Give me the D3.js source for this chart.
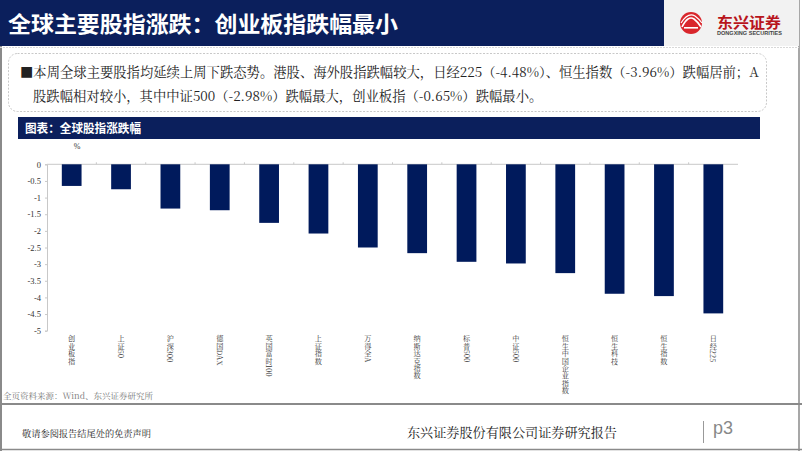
<!DOCTYPE html>
<html><head><meta charset="utf-8">
<script src="https://cdn.jsdelivr.net/npm/d3@7"></script>
<style>
html,body{margin:0;padding:0;background:#fff;}
svg{display:block;}
</style></head>
<body>
<svg id="c" width="802" height="451"></svg>
<script>
const categories = ["创业板指","上证50","沪深300","德国DAX","英国富时100","上证指数","万得全A","纳斯达克指数","标普500","中证500","恒生中国企业指数","恒生科技","恒生指数","日经225"];
const changes = [-0.65,-0.75,-1.33,-1.38,-1.76,-2.08,-2.50,-2.67,-2.93,-2.98,-3.27,-3.89,-3.96,-4.48];
const yTicks = [0,-0.5,-1,-1.5,-2,-2.5,-3,-3.5,-4,-4.5,-5];

const NAVY = "#0b1f5c";
const SERIF = "'Noto Serif CJK SC','Liberation Serif','Noto Sans CJK SC',serif";
const SANS = "'Noto Sans CJK SC','Liberation Sans',sans-serif";
const svg = d3.select("#c");

// page frame
svg.append("rect").attr("x",0).attr("y",0).attr("width",802).attr("height",451).attr("fill","#fff");
svg.append("line").attr("x1",1).attr("x2",1).attr("y1",46).attr("y2",451).attr("stroke","#8a8a8a").attr("stroke-width",2);
svg.append("line").attr("x1",799).attr("x2",799).attr("y1",0).attr("y2",451).attr("stroke","#8a8a8a").attr("stroke-width",1.5);
svg.append("line").attr("x1",0).attr("x2",802).attr("y1",449.5).attr("y2",449.5).attr("stroke","#8a8a8a").attr("stroke-width",1.5);

// header
svg.append("rect").attr("x",0).attr("y",0).attr("width",664).attr("height",46).attr("fill",NAVY);
svg.append("rect").attr("x",664).attr("y",0).attr("width",135).attr("height",46).attr("fill","#f2f2f2");
svg.append("line").attr("x1",0).attr("x2",799).attr("y1",47.5).attr("y2",47.5).attr("stroke","#d8d8d8").attr("stroke-width",1).attr("stroke-dasharray","2,1");
svg.append("text").attr("x",8).attr("y",32).attr("fill","#fff").attr("font-family",SANS).attr("font-weight","bold")
  .attr("font-size",22).attr("textLength",390).attr("lengthAdjust","spacingAndGlyphs").text("全球主要股指涨跌：创业板指跌幅最小");

// logo
const lg = svg.append("g");
lg.append("circle").attr("cx",691).attr("cy",23).attr("r",11).attr("fill","#d9262c");
lg.append("path").attr("d","M682,27 Q688,15 694,19 Q698,22 701,27").attr("fill","none").attr("stroke","#fff").attr("stroke-width",1.6);
lg.append("path").attr("d","M681,23 Q688,12 695,16 Q699,19 702,23").attr("fill","none").attr("stroke","#fff").attr("stroke-width",1.2);
lg.append("rect").attr("x",684).attr("y",27).attr("width",14).attr("height",1.6).attr("fill","#fff");
lg.append("text").attr("x",717).attr("y",28).attr("fill","#b8151c").attr("font-family",SANS).attr("font-weight","bold")
  .attr("font-size",15).attr("textLength",64).attr("lengthAdjust","spacingAndGlyphs").text("东兴证券");
lg.append("text").attr("x",717).attr("y",35).attr("fill","#444").attr("font-family","'Liberation Sans',sans-serif").attr("font-weight","bold")
  .attr("font-size",4.6).attr("textLength",65).attr("lengthAdjust","spacingAndGlyphs").text("DONGXING SECURITIES");

// summary box
svg.append("rect").attr("x",8.5).attr("y",53.5).attr("width",758).attr("height",58).attr("rx",9)
  .attr("fill","#fff").attr("stroke","#c8c8c8").attr("stroke-dasharray","2,1.5");
const l1 = svg.append("text").attr("x",20).attr("y",77).attr("fill","#222").attr("font-family",SERIF).attr("font-size",13)
  .text("■本周全球主要股指均延续上周下跌态势。港股、海外股指跌幅较大，日经225（-4.48%）、恒生指数（-3.96%）跌幅居前；A");
const l2 = svg.append("text").attr("x",33).attr("y",101).attr("fill","#222").attr("font-family",SERIF).attr("font-size",13)
  .text("股跌幅相对较小，其中中证500（-2.98%）跌幅最大，创业板指（-0.65%）跌幅最小。");
{
  const w = l1.node().getComputedTextLength();
  const fs = 13 * 739 / w;
  l1.attr("font-size", fs);
  l2.attr("font-size", fs);
}

// chart title bar
svg.append("rect").attr("x",18).attr("y",117).attr("width",742).attr("height",22).attr("fill",NAVY);
svg.append("text").attr("x",25).attr("y",133).attr("fill","#fff").attr("font-family",SANS).attr("font-weight","bold")
  .attr("font-size",12.5).attr("textLength",116).attr("lengthAdjust","spacingAndGlyphs").text("图表：全球股指涨跌幅");

// chart
const x = d3.scaleBand().domain(categories).range([47,738]).paddingInner(0.6).paddingOuter(0.3);
const y = d3.scaleLinear().domain([-5,0]).range([330.7,164.3]);

svg.append("text").attr("x",77).attr("y",149).attr("text-anchor","middle").attr("fill","#333")
  .attr("font-family","'Liberation Serif',serif").attr("font-size",8).text("%");

const ya = svg.append("g").attr("transform","translate(47,0)")
  .call(d3.axisLeft(y).tickValues(yTicks).tickFormat(d=>String(d)).tickSize(2).tickPadding(4));
ya.select(".domain").attr("stroke","#c8c8c8");
ya.selectAll(".tick line").attr("stroke","#c8c8c8");
ya.selectAll("text").attr("font-family","'Liberation Serif',serif").attr("font-size",8.5).attr("fill","#333");

// zero line with band-boundary ticks
svg.append("line").attr("x1",47).attr("x2",738).attr("y1",y(0)).attr("y2",y(0)).attr("stroke","#c8c8c8");
svg.append("g").selectAll("line").data(categories.slice(1)).join("line")
  .attr("x1",d=>x(d)-x.step()*0.3).attr("x2",d=>x(d)-x.step()*0.3)
  .attr("y1",y(0)-2).attr("y2",y(0)).attr("stroke","#c8c8c8");

svg.append("g").selectAll("rect").data(categories).join("rect")
  .attr("x",d=>x(d)).attr("width",x.bandwidth())
  .attr("y",y(0)).attr("height",(d,i)=>y(changes[i])-y(0))
  .attr("fill","#001a5c");

// vertical category labels (CJK upright, latin sideways)
svg.append("g").selectAll("text").data(categories).join("text")
  .attr("x",d=>x(d)+x.bandwidth()/2).attr("y",335)
  .style("writing-mode","vertical-rl")
  .style("letter-spacing","0.2px")
  .attr("fill","#333").attr("font-family",SERIF).attr("font-size",7.2)
  .text(d=>d);

// source & footer
svg.append("text").attr("x",3).attr("y",399).attr("fill","#777").attr("font-family",SERIF).attr("font-size",8.5)
  .text("全页资料来源：Wind、东兴证券研究所");
svg.append("line").attr("x1",0).attr("x2",802).attr("y1",404).attr("y2",404).attr("stroke","#8a8a8a").attr("stroke-width",2.2);
svg.append("text").attr("x",22).attr("y",437).attr("fill","#222").attr("font-family",SERIF).attr("font-size",9.5)
  .attr("textLength",129).attr("lengthAdjust","spacingAndGlyphs").text("敬请参阅报告结尾处的免责声明");
svg.append("text").attr("x",407).attr("y",437).attr("fill","#222").attr("font-family",SERIF).attr("font-size",13)
  .attr("textLength",210).attr("lengthAdjust","spacingAndGlyphs").text("东兴证券股份有限公司证券研究报告");
svg.append("line").attr("x1",703.5).attr("x2",703.5).attr("y1",421).attr("y2",443).attr("stroke","#999").attr("stroke-width",1);
svg.append("text").attr("x",713).attr("y",434).attr("fill","#888").attr("font-family","'Liberation Sans',sans-serif").attr("font-size",18)
  .text("p3");
</script>
</body></html>
